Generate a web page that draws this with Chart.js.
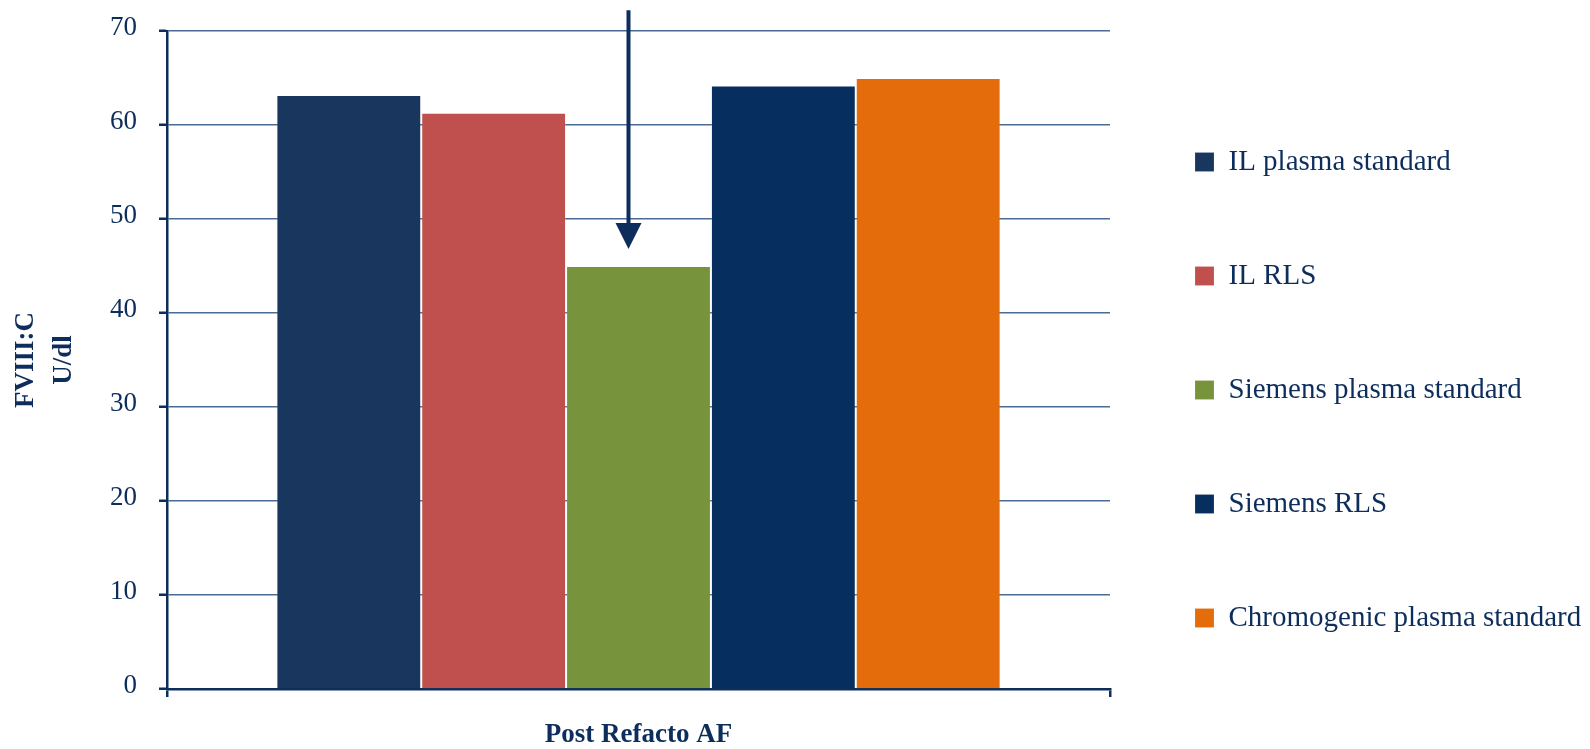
<!DOCTYPE html>
<html>
<head>
<meta charset="utf-8">
<script src="https://cdn.jsdelivr.net/npm/chart.js@4.4.1/dist/chart.umd.min.js"></script>
<style>
  html, body { margin: 0; padding: 0; background: #ffffff; }
  #wrap { width: 1590px; height: 749px; position: relative; }
</style>
</head>
<body>
<div id="wrap"><canvas id="c" width="1590" height="749"></canvas></div>
<script>
// ---- data ----
const categories = ['Post Refacto AF'];
const seriesNames = ['IL plasma standard', 'IL RLS', 'Siemens plasma standard', 'Siemens RLS', 'Chromogenic plasma standard'];
const seriesValues = [[63.2], [61.3], [45.0], [64.2], [65.0]];
const seriesColors = ['#19375e', '#c0504d', '#77933c', '#062f60', '#e46c0a'];
const yTicks = [0, 10, 20, 30, 40, 50, 60, 70];
const yTitle = ['FVIII:C', 'U/dl'];

// annotation: arrow pointing at the Siemens plasma standard bar
const arrowSeriesIndex = 2;
const arrowTopValue = 72.2;
const arrowTipAboveBar = 1.8;

const NAVY = '#0d2e5c';
const FONT = "'Liberation Serif', 'Times New Roman', serif";

const arrowPlugin = {
  id: 'arrow',
  afterDatasetsDraw(chart) {
    const meta = chart.getDatasetMeta(arrowSeriesIndex);
    const bar = meta.data[0];
    const y = chart.scales.y;
    const x = bar.x - 10;
    const yTop = y.getPixelForValue(arrowTopValue);
    const yTip = y.getPixelForValue(seriesValues[arrowSeriesIndex][0] + arrowTipAboveBar);
    const headH = 26, headW = 26;
    const ctx = chart.ctx;
    ctx.save();
    ctx.strokeStyle = NAVY;
    ctx.fillStyle = NAVY;
    ctx.lineWidth = 4;
    ctx.beginPath();
    ctx.moveTo(x, yTop);
    ctx.lineTo(x, yTip - headH + 1);
    ctx.stroke();
    ctx.beginPath();
    ctx.moveTo(x - headW / 2, yTip - headH);
    ctx.lineTo(x + headW / 2, yTip - headH);
    ctx.lineTo(x, yTip);
    ctx.closePath();
    ctx.fill();
    ctx.restore();
  }
};

const datasets = seriesNames.map((name, i) => ({
  label: name,
  data: seriesValues[i],
  backgroundColor: seriesColors[i],
  borderColor: 'rgba(255,255,255,0.15)',
  borderWidth: 1,
  categoryPercentage: 0.768,
  barPercentage: 1.0
}));

new Chart(document.getElementById('c'), {
  type: 'bar',
  data: { labels: categories, datasets },
  options: {
    responsive: false,
    animation: false,
    layout: { padding: { top: 31, right: 0, bottom: 0, left: 0 } },
    plugins: {
      tooltip: { enabled: false },
      legend: {
        position: 'right',
        align: 'center',
        maxWidth: 480,
        labels: {
          boxWidth: 19,
          boxHeight: 19,
          padding: 85,
          color: NAVY,
          font: { family: FONT, size: 29 }
        }
      }
    },
    scales: {
      x: {
        offset: true,
        grid: {
          display: true,
          drawOnChartArea: false,
          drawTicks: true,
          tickLength: 8,
          color: NAVY,
          lineWidth: 2.5,
          offset: true
        },
        border: { display: true, color: NAVY, width: 2.5 },
        ticks: { display: false },
        title: {
          display: true,
          text: categories[0],
          color: NAVY,
          padding: { top: 25, bottom: 0 },
          font: { family: FONT, size: 27, weight: 'bold', lineHeight: 1 }
        }
      },
      y: {
        min: 0,
        max: 70,
        afterBuildTicks(scale) { scale.ticks = yTicks.map(v => ({ value: v })); },
        grid: {
          color: '#4a6a96',
          lineWidth: 1.5,
          tickLength: 8,
          tickColor: NAVY,
          tickWidth: 2.5
        },
        border: { display: true, color: NAVY, width: 2.5 },
        ticks: {
          color: NAVY,
          padding: 22,
          labelOffset: -3,
          font: { family: FONT, size: 27, lineHeight: 0.5 }
        },
        title: {
          display: true,
          text: yTitle,
          color: NAVY,
          padding: { top: 7, bottom: 5.4 },
          font: { family: FONT, size: 27, weight: 'bold', lineHeight: 1.4 }
        }
      }
    }
  },
  plugins: [arrowPlugin]
});
</script>
</body>
</html>
